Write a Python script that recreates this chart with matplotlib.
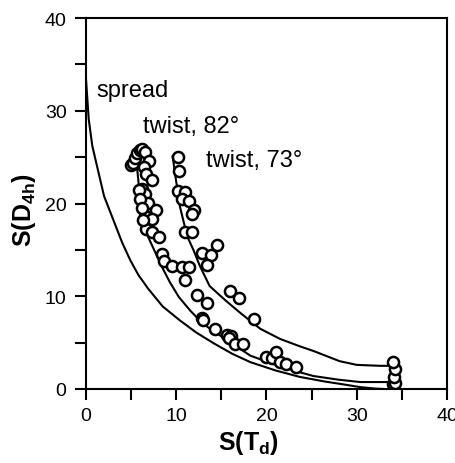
import numpy as np
import matplotlib
matplotlib.use("Agg")
import matplotlib.pyplot as plt
from matplotlib.ticker import MultipleLocator

plt.rcParams['font.family'] = ['Liberation Sans', 'DejaVu Sans']
plt.rcParams['mathtext.fontset'] = 'custom'
plt.rcParams['mathtext.rm'] = 'Liberation Sans'
plt.rcParams['mathtext.bf'] = 'Liberation Sans:bold'

# minimum distortion paths
spread_x = [0, 0.3, 0.7, 1.3, 2.0, 3.0, 4.0, 4.9, 5.8, 6.9, 8.5, 10.4, 12.2, 14.2, 16.2, 18.2, 21.0, 23.7, 26.5, 28.5, 30.4, 32.0, 33.0]
spread_y = [33.4, 29.1, 26.2, 23.7, 20.8, 18.3, 15.8, 13.9, 12.3, 10.8, 8.9, 7.4, 6.1, 4.9, 3.8, 2.9, 2.0, 1.3, 0.8, 0.5, 0.2, 0.05, 0.0]

tw82_x = [5.5, 5.8, 6.0, 6.6, 7.5, 8.5, 9.3, 10.3, 11.6, 13.0, 14.5, 16.5, 18.2, 21.0, 23.7, 25.2, 28.0, 30.4, 33.7]
tw82_y = [25.3, 22.5, 19.7, 17.0, 15.1, 13.0, 11.5, 9.9, 8.4, 7.0, 6.0, 4.7, 3.6, 2.6, 1.8, 1.4, 1.0, 0.75, 0.75]

tw73_x = [9.6, 9.9, 10.4, 11.2, 11.9, 12.6, 13.7, 15.4, 17.1, 19.3, 21.5, 23.7, 25.2, 28.1, 30.0, 32.6, 33.7]
tw73_y = [25.1, 23.0, 19.7, 16.5, 15.0, 13.3, 11.1, 9.6, 8.2, 6.5, 5.4, 4.6, 4.1, 3.0, 2.6, 2.5, 2.5]

# structures
pts_x = [5.0, 5.2, 5.4, 5.7, 6.0, 6.2, 6.5, 7.0, 6.4, 6.7, 7.3, 6.2, 6.5, 6.9, 7.8, 6.5, 7.3, 6.7, 7.3, 8.1,
         8.4, 8.6, 9.5, 10.6, 11.4, 11.0, 12.3, 13.4, 12.8, 13.0, 14.3, 15.6, 16.1, 15.8, 16.5, 17.4,
         20.0, 20.6, 21.1, 21.5, 22.2, 23.3, 34.0, 34.2, 34.1, 34.2, 34.0,
         5.9, 6.0, 6.2, 6.3,
         10.2, 10.3, 10.2, 11.0, 10.6, 11.4, 12.0, 11.7, 11.0, 11.8, 12.8, 13.9, 14.5, 13.4, 16.0, 17.0, 18.6]
pts_y = [24.2, 24.4, 24.9, 25.4, 25.8, 25.9, 25.5, 24.6, 23.9, 23.2, 22.5, 21.6, 21.0, 20.1, 19.3, 18.7, 18.3, 17.3, 16.9, 16.4,
         14.6, 13.8, 13.3, 13.1, 13.1, 11.7, 10.1, 9.3, 7.7, 7.4, 6.5, 5.8, 5.7, 5.5, 4.9, 4.9,
         3.4, 3.3, 4.0, 2.9, 2.7, 2.4, 0.5, 0.7, 1.3, 2.2, 2.9,
         21.5, 20.5, 19.5, 18.2,
         25.0, 23.5, 21.4, 21.2, 20.5, 20.3, 19.3, 18.9, 16.9, 16.9, 14.7, 14.4, 15.5, 13.4, 10.6, 9.8, 7.6]

fig = plt.figure(figsize=(4.56, 4.64), dpi=100)
ax = fig.add_axes([86/456, 1-390/464, 361/456, 371/464])

for xs, ys in [(spread_x, spread_y), (tw82_x, tw82_y), (tw73_x, tw73_y)]:
    ax.plot(xs, ys, color='black', lw=1.5, zorder=2)

ax.plot(pts_x, pts_y, 'o', ms=8, mfc='white', mec='black', mew=1.8, zorder=3)

ax.text(1.1, 31.6, 'spread', fontsize=17)
ax.text(6.3, 27.7, 'twist, 82°', fontsize=17)
ax.text(13.3, 24.0, 'twist, 73°', fontsize=17)

ax.set_xlim(0, 40)
ax.set_ylim(0, 40)
ax.xaxis.set_major_locator(MultipleLocator(10))
ax.yaxis.set_major_locator(MultipleLocator(10))
ax.xaxis.set_minor_locator(MultipleLocator(5))
ax.yaxis.set_minor_locator(MultipleLocator(5))
ax.tick_params(which='both', direction='out', length=8, width=1.5, top=False, right=False)
ax.tick_params(axis='both', labelsize=14)
ax.tick_params(axis='y', pad=6)
ax.tick_params(axis='x', pad=5)
for s in ax.spines.values():
    s.set_linewidth(1.5)

ax.set_xlabel(r'S(T$_\mathbf{d}$)', fontsize=18, fontweight='bold', labelpad=3)
ax.set_ylabel(r'S(D$_\mathbf{4h}$)', fontsize=18, fontweight='bold', labelpad=5)
ax.xaxis.label.set_x(0.45)
ax.yaxis.label.set_y(0.484)

fig.savefig('out.png', dpi=100)
